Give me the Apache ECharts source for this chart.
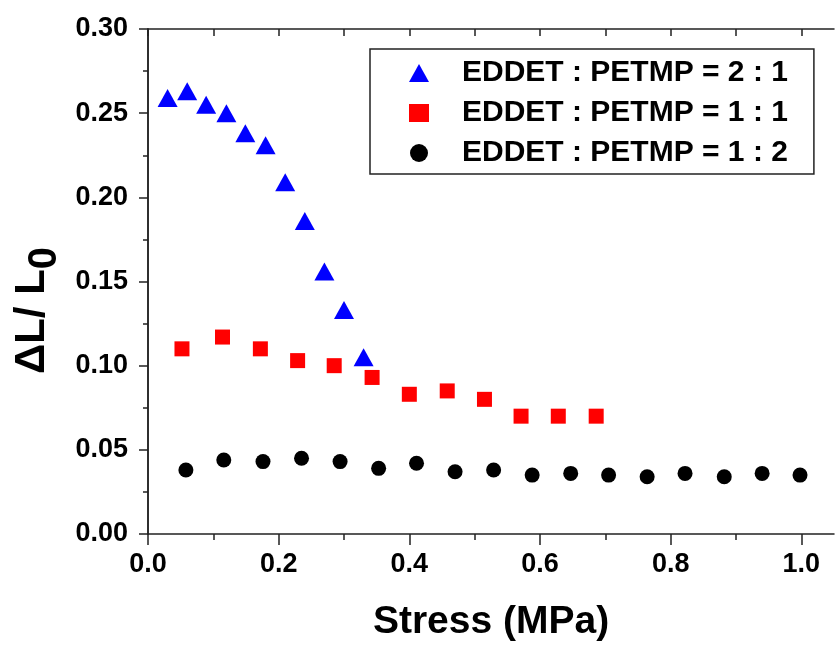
<!DOCTYPE html>
<html>
<head>
<meta charset="utf-8">
<script src="https://cdn.jsdelivr.net/npm/echarts@6/dist/echarts.min.js"></script>
<style>
    html, body { margin: 0; padding: 0; background: #fff; }
    #main { width: 836px; height: 646px; }
</style>
</head>
<body>
<div id="main"></div>
<script>
// 数据
var blueX = [0.030, 0.060, 0.089, 0.120, 0.149, 0.180, 0.210, 0.240, 0.270, 0.300, 0.330];
var blueY = [0.259, 0.263, 0.255, 0.250, 0.238, 0.231, 0.209, 0.186, 0.156, 0.133, 0.105];
var redX = [0.052, 0.114, 0.172, 0.229, 0.285, 0.343, 0.400, 0.458, 0.515, 0.571, 0.628, 0.686];
var redY = [0.110, 0.117, 0.110, 0.103, 0.100, 0.093, 0.083, 0.085, 0.080, 0.070, 0.070, 0.070];
var blackX = [0.058, 0.116, 0.176, 0.235, 0.294, 0.353, 0.411, 0.470, 0.529, 0.588, 0.647, 0.705, 0.764, 0.822, 0.882, 0.940, 0.998];
var blackY = [0.038, 0.044, 0.043, 0.045, 0.043, 0.039, 0.042, 0.037, 0.038, 0.035, 0.036, 0.035, 0.034, 0.036, 0.034, 0.036, 0.035];
var seriesNames = ['EDDET : PETMP = 2 : 1', 'EDDET : PETMP = 1 : 1', 'EDDET : PETMP = 1 : 2'];
var xMajor = [0, 0.2, 0.4, 0.6, 0.8, 1.0];
var xMinor = [0.1, 0.3, 0.5, 0.7, 0.9];
var xAll = [0, 0.1, 0.2, 0.3, 0.4, 0.5, 0.6, 0.7, 0.8, 0.9, 1.0];

function pairs(xs, ys) {
    var out = [];
    for (var i = 0; i < xs.length; i++) {
        out.push([xs[i], ys[i]]);
    }
    return out;
}

var font = "'Liberation Sans', Arial, sans-serif";
var lineStyle = { color: '#222', width: 1.5 };

var chartDom = document.getElementById('main');
var myChart = echarts.init(chartDom);
var option;
option = {
    animation: false,
    backgroundColor: '#fff',
    grid: {
        left: 148,
        right: 2,
        top: 29,
        bottom: 112,
        containLabel: false,
        outerBoundsMode: 'none'
    },
    legend: {
        left: 370,
        top: 49,
        orient: 'vertical',
        data: seriesNames,
        itemWidth: 20,
        itemHeight: 18,
        itemGap: 10,
        padding: [9, 26, 6, 39],
        borderColor: '#222',
        borderWidth: 1.5,
        formatter: function (name) { return '{t|' + name + '}'; },
        textStyle: {
            rich: {
                t: {
                    fontFamily: font,
                    fontWeight: 'bold',
                    fontSize: 30,
                    lineHeight: 30,
                    color: '#000',
                    padding: [0, 0, 0, 28]
                }
            }
        }
    },
    xAxis: [
        {
            type: 'value',
            position: 'bottom',
            min: 0,
            max: 1.05,
            name: 'Stress (MPa)',
            nameLocation: 'middle',
            nameGap: 69,
            nameTextStyle: { fontFamily: font, fontWeight: 'bold', fontSize: 39, color: '#000' },
            axisLine: { show: true, lineStyle: lineStyle },
            axisTick: { show: true, length: 11, customValues: xMajor, lineStyle: lineStyle },
            axisLabel: {
                customValues: xMajor,
                margin: 17,
                fontFamily: font,
                fontWeight: 'bold',
                fontSize: 27,
                color: '#000',
                formatter: function (v) { return v.toFixed(1); }
            },
            splitLine: { show: false }
        },
        {
            // 下方次刻度
            type: 'value',
            position: 'bottom',
            min: 0,
            max: 1.05,
            axisLine: { show: false },
            axisTick: { show: true, length: 6, customValues: xMinor, lineStyle: lineStyle },
            axisLabel: { show: false },
            splitLine: { show: false }
        },
        {
            // 上边框
            type: 'value',
            position: 'top',
            min: 0,
            max: 1.05,
            axisLine: { show: true, lineStyle: lineStyle },
            axisTick: { show: true, inside: true, length: 7, customValues: xAll, lineStyle: lineStyle },
            axisLabel: { show: false },
            splitLine: { show: false }
        }
    ],
    yAxis: [
        {
            type: 'value',
            position: 'left',
            min: 0,
            max: 0.30,
            interval: 0.05,
            name: '{a|ΔL/ L}{b|0}',
            nameLocation: 'middle',
            nameGap: 88,
            nameTextStyle: {
                padding: [0, 58, 0, 0],
                rich: {
                    a: { fontFamily: font, fontWeight: 'bold', fontSize: 42, lineHeight: 42, color: '#000' },
                    b: { fontFamily: font, fontWeight: 'bold', fontSize: 40, lineHeight: 42, padding: [24, 0, 0, 0], color: '#000' }
                }
            },
            axisLine: { show: true, lineStyle: lineStyle },
            axisTick: { show: true, length: 9, lineStyle: lineStyle },
            minorTick: { show: true, splitNumber: 2, length: 4, lineStyle: lineStyle },
            axisLabel: {
                margin: 20,
                fontFamily: font,
                fontWeight: 'bold',
                fontSize: 27,
                color: '#000',
                formatter: function (v) { return v.toFixed(2); }
            },
            splitLine: { show: false }
        },
        {
            // 右边框
            type: 'value',
            position: 'right',
            min: 0,
            max: 0.30,
            interval: 0.05,
            axisLine: { show: true, lineStyle: lineStyle },
            axisTick: { show: true, inside: true, length: 5, lineStyle: lineStyle },
            minorTick: { show: true, splitNumber: 2, length: 5, lineStyle: lineStyle },
            axisLabel: { show: false },
            splitLine: { show: false }
        }
    ],
    series: [
        {
            name: seriesNames[0],
            type: 'scatter',
            symbol: 'triangle',
            symbolSize: [20, 18],
            itemStyle: { color: '#0000ff', opacity: 1 },
            data: pairs(blueX, blueY)
        },
        {
            name: seriesNames[1],
            type: 'scatter',
            symbol: 'rect',
            symbolSize: 15,
            itemStyle: { color: '#ff0000', opacity: 1 },
            data: pairs(redX, redY)
        },
        {
            name: seriesNames[2],
            type: 'scatter',
            symbol: 'circle',
            symbolSize: 15,
            itemStyle: { color: '#000000', opacity: 1 },
            data: pairs(blackX, blackY)
        }
    ]
};
option && myChart.setOption(option);
</script>
</body>
</html>
